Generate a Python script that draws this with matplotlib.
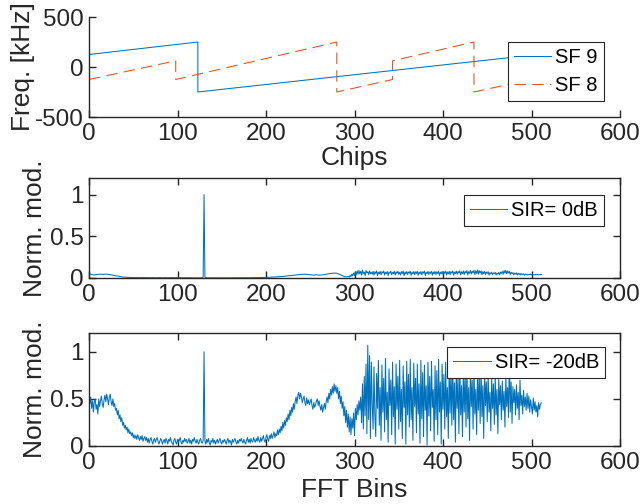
import matplotlib
matplotlib.use("Agg")
import matplotlib.pyplot as plt
import numpy as np

plt.rcParams['font.family'] = ['Liberation Sans', 'DejaVu Sans']
plt.rcParams['axes.unicode_minus'] = False

# ---- Top panel: instantaneous frequency (chirps) ----
sf9_x = [0, 123, 123, 512]
sf9_y = [125, 250, -250, 130]
sf8_x = [0, 98, 98, 280, 280, 343, 343, 435, 435, 512]
sf8_y = [-125, 62, -125, 250, -250, -125, 62, 250, -250, -100]

# ---- Middle panel: SIR = 0 dB (normalized FFT modulus, bins 0..511) ----
sir0 = [
0.050,0.047,0.044,0.041,0.039,0.038,0.037,0.038,0.040,0.042,0.044,0.045,0.046,0.046,0.045,0.044,
0.044,0.045,0.047,0.048,0.047,0.045,0.043,0.041,0.039,0.037,0.035,0.033,0.031,0.029,0.027,0.025,
0.023,0.021,0.019,0.017,0.015,0.013,0.012,0.011,0.010,0.009,0.008,0.008,0.007,0.007,0.006,0.006,
0.006,0.005,0.005,0.006,0.005,0.004,0.005,0.006,0.005,0.004,0.005,0.005,0.004,0.005,0.006,0.005,
0.004,0.005,0.004,0.003,0.004,0.005,0.004,0.003,0.004,0.005,0.004,0.003,0.004,0.004,0.003,0.004,
0.005,0.004,0.003,0.004,0.003,0.004,0.005,0.004,0.003,0.003,0.004,0.003,0.004,0.005,0.004,0.003,
0.003,0.004,0.003,0.004,0.003,0.002,0.003,0.004,0.003,0.002,0.003,0.003,0.002,0.003,0.004,0.003,
0.002,0.003,0.002,0.003,0.002,0.002,0.003,0.002,0.002,0.003,0.002,0.002,0.003,0.002,0.003,0.004,
0.005,0.012,1.000,0.010,0.004,0.003,0.002,0.002,0.003,0.002,0.002,0.003,0.002,0.002,0.002,0.003,
0.002,0.002,0.003,0.002,0.002,0.002,0.003,0.002,0.002,0.003,0.002,0.002,0.002,0.003,0.002,0.002,
0.003,0.002,0.002,0.003,0.002,0.003,0.002,0.002,0.003,0.003,0.002,0.003,0.003,0.002,0.003,0.003,
0.003,0.004,0.003,0.003,0.004,0.003,0.004,0.004,0.003,0.004,0.005,0.004,0.005,0.004,0.005,0.005,
0.005,0.006,0.005,0.006,0.007,0.006,0.007,0.008,0.007,0.008,0.009,0.008,0.009,0.010,0.010,0.011,
0.011,0.012,0.012,0.013,0.014,0.014,0.015,0.016,0.017,0.017,0.018,0.019,0.020,0.021,0.022,0.023,
0.024,0.025,0.026,0.028,0.029,0.030,0.032,0.033,0.034,0.036,0.037,0.038,0.039,0.041,0.042,0.043,
0.044,0.045,0.045,0.046,0.046,0.045,0.044,0.043,0.042,0.040,0.039,0.037,0.036,0.035,0.034,0.034,
0.040,0.038,0.036,0.035,0.034,0.034,0.035,0.036,0.038,0.040,0.042,0.044,0.046,0.048,0.050,0.052,
0.054,0.055,0.056,0.057,0.058,0.058,0.059,0.058,0.056,0.053,0.049,0.044,0.039,0.034,0.029,0.024,
0.020,0.017,0.015,0.014,0.016,0.020,0.012,0.030,0.018,0.045,0.025,0.060,0.030,0.075,0.040,0.085,
0.045,0.090,0.050,0.080,0.035,0.095,0.055,0.070,0.030,0.090,0.060,0.075,0.040,0.085,0.050,0.070,
0.045,0.080,0.035,0.075,0.055,0.085,0.030,0.070,0.050,0.080,0.040,0.075,0.060,0.085,0.035,0.070,
0.050,0.078,0.030,0.072,0.058,0.082,0.040,0.068,0.052,0.080,0.035,0.074,0.056,0.080,0.045,0.070,
0.036,0.076,0.054,0.084,0.028,0.070,0.048,0.079,0.042,0.073,0.057,0.082,0.033,0.069,0.051,0.078,
0.040,0.074,0.055,0.081,0.032,0.071,0.049,0.077,0.038,0.075,0.058,0.083,0.030,0.068,0.053,0.079,
0.043,0.072,0.056,0.080,0.034,0.073,0.050,0.078,0.041,0.074,0.054,0.082,0.031,0.070,0.052,0.080,
0.044,0.075,0.057,0.083,0.036,0.072,0.049,0.080,0.040,0.076,0.058,0.085,0.034,0.071,0.054,0.082,
0.046,0.078,0.060,0.086,0.038,0.074,0.052,0.084,0.043,0.079,0.061,0.088,0.037,0.075,0.056,0.090,
0.048,0.082,0.062,0.092,0.040,0.086,0.055,0.095,0.045,0.088,0.060,0.085,0.038,0.076,0.052,0.080,
0.042,0.072,0.055,0.076,0.035,0.065,0.048,0.070,0.040,0.062,0.050,0.068,0.036,0.060,0.045,0.066,
0.040,0.070,0.055,0.080,0.045,0.088,0.060,0.092,0.050,0.085,0.058,0.078,0.042,0.070,0.050,0.065,
0.038,0.060,0.045,0.062,0.035,0.058,0.042,0.055,0.036,0.052,0.040,0.050,0.034,0.048,0.038,0.046,
0.036,0.045,0.040,0.048,0.035,0.044,0.038,0.042,0.036,0.045,0.039,0.043,0.037,0.041,0.040,0.042,
]

# ---- Bottom panel: SIR = -20 dB ----
sir20 = [
0.53,0.45,0.52,0.40,0.48,0.36,0.47,0.50,0.39,0.44,0.34,0.50,0.42,0.48,0.53,0.45,
0.41,0.49,0.54,0.47,0.55,0.50,0.44,0.52,0.55,0.47,0.43,0.50,0.42,0.45,0.38,0.40,
0.33,0.38,0.29,0.33,0.26,0.30,0.22,0.25,0.19,0.22,0.17,0.20,0.14,0.18,0.13,0.15,
0.11,0.14,0.09,0.12,0.08,0.11,0.07,0.12,0.09,0.06,0.10,0.07,0.11,0.05,0.08,0.10,
0.06,0.09,0.04,0.08,0.03,0.07,0.09,0.05,0.02,0.06,0.08,0.04,0.07,0.09,0.05,0.02,
0.05,0.08,0.06,0.02,0.05,0.07,0.03,0.08,0.06,0.02,0.07,0.05,0.09,0.05,0.03,0.01,
0.06,0.08,0.04,0.02,0.07,0.04,0.06,0.09,0.04,0.02,0.06,0.04,0.08,0.05,0.07,0.03,
0.05,0.08,0.03,0.06,0.02,0.07,0.05,0.09,0.05,0.03,0.07,0.04,0.02,0.06,0.08,0.04,
0.03,0.06,1.00,0.05,0.02,0.07,0.04,0.08,0.03,0.01,0.06,0.04,0.08,0.03,0.06,0.02,
0.05,0.07,0.03,0.06,0.08,0.04,0.02,0.06,0.04,0.07,0.05,0.02,0.06,0.08,0.03,0.06,
0.05,0.01,0.07,0.04,0.06,0.08,0.04,0.02,0.06,0.03,0.07,0.05,0.08,0.05,0.03,0.07,
0.04,0.02,0.06,0.09,0.04,0.07,0.03,0.08,0.05,0.04,0.09,0.06,0.04,0.08,0.05,0.10,
0.06,0.04,0.09,0.05,0.08,0.11,0.06,0.04,0.09,0.12,0.07,0.05,0.11,0.08,0.13,0.08,
0.11,0.15,0.09,0.13,0.11,0.17,0.12,0.18,0.14,0.21,0.16,0.25,0.19,0.27,0.22,0.30,
0.26,0.34,0.28,0.38,0.32,0.41,0.36,0.45,0.39,0.47,0.52,0.45,0.54,0.57,0.50,0.56,
0.52,0.46,0.50,0.53,0.46,0.43,0.51,0.45,0.49,0.44,0.47,0.50,0.43,0.39,0.46,0.41,
0.44,0.48,0.50,0.43,0.48,0.42,0.38,0.44,0.36,0.41,0.45,0.39,0.47,0.52,0.46,0.56,
0.50,0.60,0.54,0.63,0.56,0.66,0.58,0.64,0.56,0.62,0.50,0.58,0.45,0.53,0.40,0.47,
0.32,0.42,0.25,0.38,0.20,0.34,0.15,0.31,0.12,0.29,0.19,0.35,0.11,0.40,0.28,0.44,
0.33,0.48,0.38,0.52,0.25,0.66,0.18,0.74,0.32,0.87,0.13,1.07,0.28,0.96,0.08,0.89,
0.45,0.18,0.84,0.33,0.10,0.77,0.40,0.91,0.22,0.62,0.06,0.86,0.36,0.72,0.15,0.93,
0.28,0.57,0.04,0.82,0.43,0.70,0.12,0.89,0.31,0.63,0.02,0.87,0.39,0.74,0.18,0.91,
0.26,0.60,0.08,0.85,0.41,0.68,0.02,0.90,0.33,0.76,0.20,0.92,0.28,0.62,0.06,0.88,
0.42,0.72,0.14,0.87,0.34,0.66,0.03,0.91,0.29,0.78,0.10,0.86,0.38,0.64,0.01,0.89,
0.32,0.74,0.16,0.90,0.41,0.60,0.05,0.85,0.28,0.80,0.12,0.92,0.36,0.68,0.02,0.87,
0.39,0.76,0.18,0.89,0.31,0.62,0.08,0.86,0.35,0.81,0.22,0.91,0.28,0.67,0.04,0.85,
0.40,0.72,0.13,0.88,0.33,0.64,0.10,0.81,0.36,0.77,0.20,0.87,0.29,0.62,0.06,0.83,
0.42,0.70,0.18,0.85,0.34,0.60,0.12,0.79,0.38,0.74,0.24,0.86,0.31,0.64,0.08,0.81,
0.43,0.68,0.26,0.77,0.36,0.57,0.16,0.73,0.40,0.66,0.23,0.75,0.33,0.60,0.13,0.71,
0.44,0.64,0.28,0.69,0.38,0.58,0.20,0.74,0.42,0.62,0.30,0.95,0.36,0.68,0.24,0.63,
0.46,0.60,0.33,0.65,0.40,0.57,0.28,0.70,0.43,0.54,0.34,0.59,0.42,0.52,0.38,0.56,
0.40,0.53,0.36,0.49,0.42,0.34,0.51,0.38,0.47,0.36,0.43,0.31,0.46,0.39,0.44,0.46,
]

bins = np.arange(len(sir0))
xticks = [0, 100, 200, 300, 400, 500, 600]

BLUE = '#0072BD'
ORANGE = '#D95319'
AXC = '#262626'
FS = 17.5
LFS = 19
LEGFS = 14.5

W, H = 642, 504
fig = plt.figure(figsize=(W / 100, H / 100), dpi=100)

def frac(l, t, r, b):
    return [l / W, 1 - b / H, (r - l) / W, (b - t) / H]

def style(ax, box):
    for s in ['left', 'bottom', 'top', 'right']:
        ax.spines[s].set_color(AXC)
        ax.spines[s].set_linewidth(1.0)
    if not box:
        ax.spines['top'].set_visible(False)
        ax.spines['right'].set_visible(False)
    ax.tick_params(direction='in', length=5, width=1.0, colors=AXC,
                   labelsize=FS, top=box, right=box, pad=4)
    ax.set_xlim(0, 600)
    ax.set_xticks(xticks)

def legend(ax, loc_px, spacing):
    lg = ax.legend(loc='upper right', bbox_to_anchor=(loc_px[0] / W, 1 - loc_px[1] / H),
                   bbox_transform=fig.transFigure, fontsize=LEGFS, fancybox=False,
                   framealpha=1, edgecolor=AXC, handlelength=1.85, borderpad=0.3,
                   handletextpad=0.2, labelspacing=spacing, borderaxespad=0)
    lg.get_frame().set_linewidth(0.8)
    return lg

LW = 0.75

# top
ax1 = fig.add_axes(frac(89, 17, 620, 117))
ax1.plot(sf9_x, sf9_y, color=BLUE, lw=LW, label='SF 9')
ax1.plot(sf8_x, sf8_y, color=ORANGE, lw=LW, ls=(0, (11, 6)), label='SF 8')
style(ax1, False)
ax1.set_ylim(-500, 500)
ax1.set_yticks([-500, 0, 500])
ax1.set_xlabel('Chips', fontsize=LFS, color=AXC, labelpad=1)
ax1.set_ylabel('Freq. [kHz]', fontsize=LFS, color=AXC, labelpad=0)
legend(ax1, (604, 42), 0.45)

# middle
ax2 = fig.add_axes(frac(89, 178, 620, 278))
ax2.plot(bins, sir0, color=BLUE, lw=LW, label='SIR= 0dB')
style(ax2, True)
ax2.set_ylim(0, 1.2)
ax2.set_yticks([0, 0.5, 1])
ax2.set_yticklabels(['0', '0.5', '1'])
ax2.set_ylabel('Norm. mod.', fontsize=LFS, color=AXC, labelpad=2)
legend(ax2, (604, 195), 0.3)

# bottom
ax3 = fig.add_axes(frac(89, 333, 620, 446))
ax3.plot(bins, sir20, color=BLUE, lw=LW, label='SIR= -20dB')
style(ax3, True)
ax3.set_ylim(0, 1.2)
ax3.set_yticks([0, 0.5, 1])
ax3.set_yticklabels(['0', '0.5', '1'])
ax3.set_xlabel('FFT Bins', fontsize=LFS, color=AXC, labelpad=3)
ax3.set_ylabel('Norm. mod.', fontsize=LFS, color=AXC, labelpad=2)
legend(ax3, (605, 347), 0.3)

fig.savefig('out.png', dpi=100)
